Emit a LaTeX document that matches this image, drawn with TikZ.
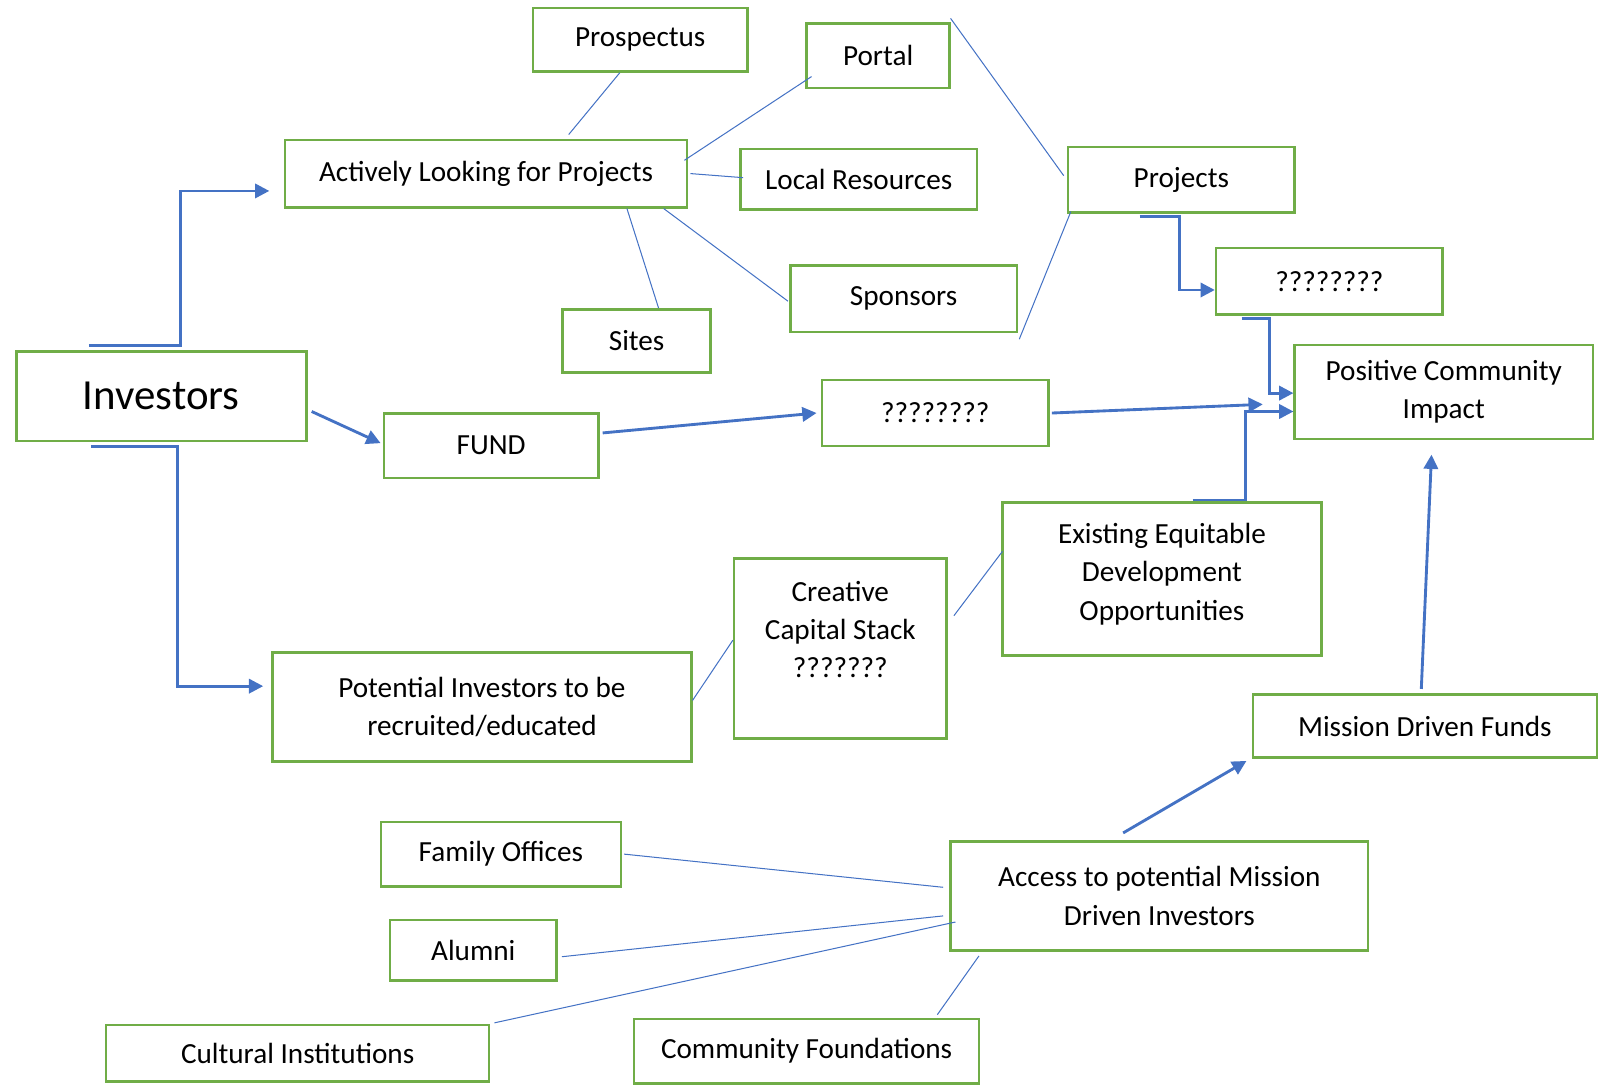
\documentclass[tikz,border=0pt]{standalone}
\usepackage{fontspec}
\setmainfont{Carlito}
\usetikzlibrary{arrows.meta}
\definecolor{boxgreen}{HTML}{70AD47}
\definecolor{linkblue}{HTML}{4472C4}
\tikzset{
  box/.style={draw=boxgreen, line width=1.25pt, fill=white, align=center, inner sep=0pt,
    font=\fontsize{14.3}{18.75}\selectfont},
  link/.style={linkblue, line width=0.5pt},
  flow/.style={linkblue, line width=1.4pt, -{Triangle[length=7pt,width=7pt]}},
}

\begin{document}
\begin{tikzpicture}[x=0.5pt,y=-0.5pt]
  \useasboundingbox (0,0) rectangle (1568,1067);
  \node[box, minimum width=105pt, minimum height=31pt] (prosp) at (627,39) {Prospectus};
  \node[box, minimum width=70pt, minimum height=31.5pt] (portal) at (860,54.5) {Portal};
  \node[box, minimum width=197pt, minimum height=33pt] (alfp) at (476,170) {Actively Looking for Projects};
  \node[box, minimum width=116pt, minimum height=29.5pt] (locres) at (841,175.5) {Local Resources};
  \node[box, minimum width=111pt, minimum height=32.5pt] (spons) at (885,292.5) {Sponsors};
  \node[box, minimum width=72.5pt, minimum height=31pt] (sites) at (623.5,334) {Sites};
  \node[box, minimum width=111pt, minimum height=32pt] (proj) at (1157,176) {Projects};
  \node[box, minimum width=111pt, minimum height=32.5pt] (qtop) at (1302,275.5) {????????};
  \node[box, minimum width=146pt, minimum height=46pt] (pci) at (1414,384) {Positive Community\\Impact};
  \node[box, minimum width=142pt, minimum height=44pt, font=\fontsize{21}{24}\selectfont] (inv) at (158,388) {Investors};
  \node[box, minimum width=105pt, minimum height=31.5pt] (fund) at (481,436.5) {FUND};
  \node[box, minimum width=111pt, minimum height=32.5pt] (qmid) at (916,404.5) {????????};
  \node[box, minimum width=156pt, minimum height=75pt] (eedo) at (1138,567) {Existing Equitable\\Development\\Opportunities\\[-11.75pt]};
  \node[box, minimum width=104pt, minimum height=88pt] (ccs) at (823,635) {Creative\\Capital Stack\\???????\\~};
  \node[box, minimum width=205pt, minimum height=53.5pt] (potinv) at (472,692.5) {Potential Investors to be\\recruited/educated};
  \node[box, minimum width=168.5pt, minimum height=31pt] (mdf) at (1395.5,711) {Mission Driven Funds};
  \node[box, minimum width=117.5pt, minimum height=31.5pt] (famoff) at (490.5,836.5) {Family Offices};
  \node[box, minimum width=204.5pt, minimum height=53.5pt] (access) at (1135.5,877.5) {Access to potential Mission\\Driven Investors};
  \node[box, minimum width=81.5pt, minimum height=29.5pt] (alumni) at (463.5,930.5) {Alumni};
  \node[box, minimum width=187.5pt, minimum height=27.5pt] (cultinst) at (291.5,1031.5) {Cultural Institutions};
  \node[box, minimum width=169pt, minimum height=31.5pt] (commfound) at (790,1029.5) {Community Foundations};
  \coordinate (projtop) at (931,18);

  % thin links
  \path[link]
    ([shift={(-20,0)}]prosp.south) edge ([shift={(81,-4)}]alfp.north)
    ([shift={(6,20.5)}]portal.west) edge ([shift={(-4,-13)}]alfp.east)
    ([shift={(2,0)}]alfp.east) edge ([shift={(4,-1.5)}]locres.west)
    ([shift={(138,0)}]alfp.south) edge ([shift={(21.5,0)}]sites.north)
    ([shift={(174,0)}]alfp.south) edge ([shift={(-1,2.5)}]spons.west)
    (projtop) edge ([shift={(-3,-4)}]proj.west)
    ([shift={(4,-2)}]proj.south west) edge ([shift={(1,6)}]spons.south east)
    ([shift={(0,-6.5)}]potinv.east) edge ([shift={(0,-8)}]ccs.west)
    ([shift={(6,-32)}]ccs.east) edge ([shift={(1,-27)}]eedo.west)
    ([shift={(2,0)}]famoff.east) edge ([shift={(-6,-8.5)}]access.west)
    ([shift={(4,6.5)}]alumni.east) edge ([shift={(-6,19.5)}]access.west)
    ([shift={(4,-1)}]cultinst.north east) edge ([shift={(6,25.5)}]access.west)
    ([shift={(128,-3)}]commfound.north) edge ([shift={(29,4)}]access.south west);

  % flow arrows
  \draw[flow] ([shift={(-71,-4)}]inv.north) -- ([shift={(19,-4)}]inv.north) |- ([shift={(-14,17)}]alfp.west);
  \draw[flow] ([shift={(-69,4)}]inv.south) -- ([shift={(16,4)}]inv.south) |- ([shift={(-8,-20.5)}]potinv.west);
  \draw[flow] ([shift={(4,15)}]inv.east) -- ([shift={(-2,-2.5)}]fund.west);
  \draw[flow] ([shift={(3,-12.5)}]fund.east) -- ([shift={(-4,0)}]qmid.west);
  \draw[flow] ([shift={(2,0)}]qmid.east) -- ([shift={(-30,12)}]pci.west);
  \draw[flow] ([shift={(-41,3)}]proj.south) -- ([shift={(-2,3)}]proj.south) |- ([shift={(0,8.5)}]qtop.west);
  \draw[flow] ([shift={(-86,3)}]qtop.south) -- ([shift={(-59,3)}]qtop.south) |- ([shift={(0,1)}]pci.west);
  \draw[flow] ([shift={(30,-1)}]eedo.north) -- ([shift={(82,-1)}]eedo.north) |- ([shift={(0,19)}]pci.west);
  \draw[flow] ([shift={(-3.5,-4)}]mdf.north) -- ([shift={(-12,14)}]pci.south);
  \draw[flow] ([shift={(-35.5,-7)}]access.north) -- ([shift={(-5,2)}]mdf.south west);
\end{tikzpicture}
\end{document}
